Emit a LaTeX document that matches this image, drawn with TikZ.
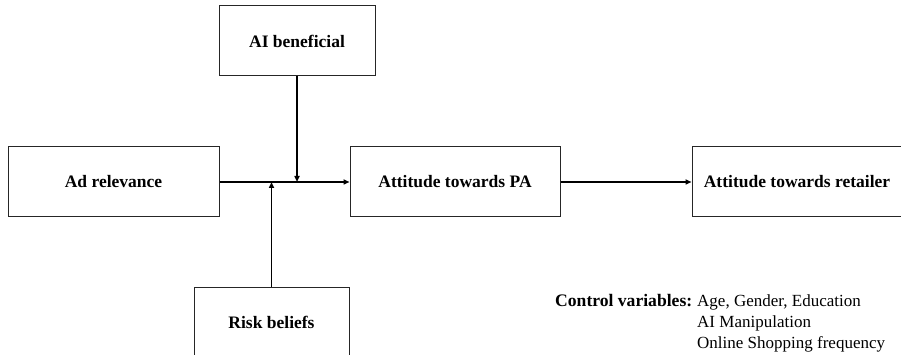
\documentclass[tikz,border=0pt]{standalone}
\usepackage{fontspec}
\setmainfont{Liberation Serif}
\usetikzlibrary{arrows.meta}
\begin{document}
\begin{tikzpicture}[x=1pt,y=-1pt,
  box/.style={draw=black!85,line width=1pt,minimum height=70pt,inner sep=0pt,
    font=\fontsize{17.5}{20}\selectfont\bfseries,anchor=center},
  conn/.style={line width=1.6pt,draw=black},
  arr/.style={conn,-{Triangle[length=6pt,width=5pt]}}]
\useasboundingbox (0,0) rectangle (901,355);
\clip (0,0) rectangle (901,355);
\fill[white] (0,0) rectangle (901,355);
\node[box,minimum width=156pt] (ai) at (297,41) {AI beneficial};
\node[box,minimum width=211pt] (ad) at (113.5,182) {Ad relevance};
\node[box,minimum width=210pt] (pa) at (455,182) {Attitude towards PA};
\node[box,minimum width=210pt] (ret) at (797,182) {Attitude towards retailer};
\node[box,minimum width=155pt] (risk) at (271.5,322) {Risk beliefs};
\draw[arr] (ad.east) -- (pa.west);
\draw[arr] (pa.east) -- (ret.west);
\draw[arr] (ai.south) -- (ai.south |- ad.east);
\draw[arr] (risk.north) -- (risk.north |- ad.east);
\node[anchor=base west,inner sep=0pt,font=\fontsize{17.6}{21}\selectfont\bfseries] (ctrl) at (555,306.5) {Control variables:};
\node[anchor=base west,inner sep=0pt,font=\fontsize{17}{21}\selectfont] (vars) at (697,306.5)
  {\begin{tabular}[t]{@{}l@{}}Age, Gender, Education\\ AI Manipulation\\ Online Shopping frequency\end{tabular}};
\end{tikzpicture}
\end{document}
